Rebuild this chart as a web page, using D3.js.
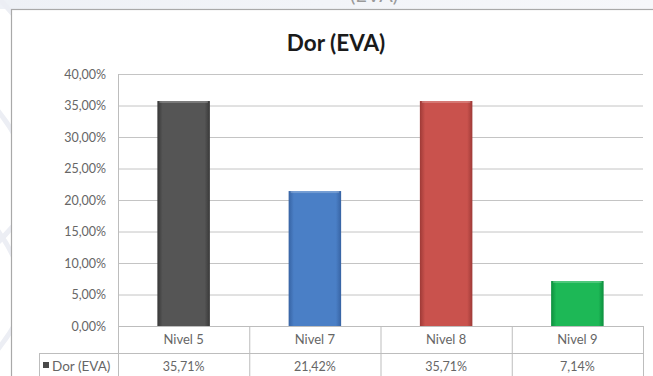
<!DOCTYPE html>
<html>
<head>
<meta charset="utf-8">
<script src="https://cdn.jsdelivr.net/npm/d3@7"></script>
<style>
  html, body { margin: 0; padding: 0; background: #ffffff; }
  svg { display: block; }
  text { font-family: Lato, "Open Sans", "Liberation Sans", sans-serif; }
</style>
</head>
<body>
<svg id="chart" width="653" height="376"></svg>
<script>
// Data
const title = "Dor (EVA)";
const seriesName = "Dor (EVA)";
const categories = ["Nivel 5", "Nivel 7", "Nivel 8", "Nivel 9"];
const values = [0.3571, 0.2142, 0.3571, 0.0714];
const yTicks = [0, 0.05, 0.10, 0.15, 0.20, 0.25, 0.30, 0.35, 0.40];
const barColors = ["#555555", "#4a7fc6", "#c9524d", "#1db856"];
const barEdges = ["#383838", "#3763a3", "#9e3a37", "#0d8f3e"];

const W = 653, H = 376;
const svg = d3.select("#chart");

// pt-BR number formatting (comma decimal)
const ptBR = d3.formatLocale({ decimal: ",", thousands: ".", grouping: [3], currency: ["R$", ""] });
const pct = ptBR.format(".2%");

// Slide background with faint arcs
svg.append("rect").attr("width", W).attr("height", H).attr("fill", "#ffffff");
const topGrad = svg.append("defs").append("linearGradient")
  .attr("id", "topband").attr("x1", 0).attr("x2", 1);
topGrad.append("stop").attr("offset", "0%").attr("stop-color", "#eef1f6");
topGrad.append("stop").attr("offset", "100%").attr("stop-color", "#f6f7fa");
svg.append("rect").attr("x", 0).attr("y", 0).attr("width", W).attr("height", 9).attr("fill", "url(#topband)");
[[-120, 120, 170], [-150, 230, 190], [-140, 330, 170]].forEach(([cx, cy, r]) => {
  svg.append("circle").attr("cx", cx).attr("cy", cy).attr("r", r)
    .attr("fill", "none").attr("stroke", "#eceef4").attr("stroke-width", 5);
});
// heading line of the slide above the chart, mostly outside the view
svg.append("text").attr("x", 374).attr("y", 2).attr("text-anchor", "middle")
  .attr("font-size", 20).attr("fill", "#9a9a9a").text("(EVA)");

// Chart frame
svg.append("rect").attr("x", 11.5).attr("y", 9.5).attr("width", 660).attr("height", 380)
  .attr("fill", "#ffffff").attr("stroke", "#a9a9a9").attr("stroke-width", 1.2);

// Title
svg.append("text").attr("x", 336).attr("y", 51).attr("text-anchor", "middle")
  .attr("font-size", 22.5).attr("font-weight", "bold").attr("fill", "#1a1a1a").text(title);

// Scales
const plotL = 118, plotR = 643, plotT = 74, plotB = 326;
const x = d3.scaleBand().domain(categories).range([plotL, plotR]).paddingInner(0.6).paddingOuter(0.3);
const xCell = d3.scaleBand().domain(categories).range([plotL, plotR]).padding(0);
const y = d3.scaleLinear().domain([0, 0.40]).range([plotB, plotT]);

// Gridlines
const grid = svg.append("g").attr("transform", `translate(${plotL},0)`)
  .call(d3.axisLeft(y).tickValues(yTicks.slice(1)).tickSize(-(plotR - plotL)).tickFormat(""));
grid.select(".domain").remove();
grid.selectAll("line").attr("stroke", "#c4c4c4").attr("stroke-width", 1);

// Y axis labels
const yAxis = svg.append("g").attr("transform", `translate(${plotL},0)`)
  .call(d3.axisLeft(y).tickValues(yTicks).tickSize(0).tickPadding(12).tickFormat(pct));
yAxis.select(".domain").attr("stroke", "#bdbdbd");
yAxis.selectAll("text").attr("font-size", 12.5).attr("fill", "#666666")
  .attr("font-family", "Lato, 'Open Sans', sans-serif");

// Bar gradients
const defs = svg.append("defs");
categories.forEach((c, i) => {
  const g = defs.append("linearGradient").attr("id", "bar" + i).attr("x1", 0).attr("x2", 1);
  g.append("stop").attr("offset", "0%").attr("stop-color", barEdges[i]);
  g.append("stop").attr("offset", "10%").attr("stop-color", barColors[i]);
  g.append("stop").attr("offset", "90%").attr("stop-color", barColors[i]);
  g.append("stop").attr("offset", "100%").attr("stop-color", barEdges[i]);
});

// Bars
const bars = svg.append("g");
bars.selectAll("rect.bar").data(values).join("rect").attr("class", "bar")
  .attr("x", (d, i) => x(categories[i]))
  .attr("y", d => y(d))
  .attr("width", x.bandwidth())
  .attr("height", d => y(0) - y(d))
  .attr("fill", (d, i) => `url(#bar${i})`);
bars.selectAll("rect.hi").data(values).join("rect").attr("class", "hi")
  .attr("x", (d, i) => x(categories[i]) + 2)
  .attr("y", d => y(d))
  .attr("width", x.bandwidth() - 4)
  .attr("height", 2)
  .attr("fill", "#ffffff").attr("opacity", 0.22);

// Data table
const rowH = 27;
const table = svg.append("g").attr("stroke", "#bdbdbd").attr("stroke-width", 1);
table.append("line").attr("x1", plotL).attr("x2", plotR).attr("y1", plotB + 0.5).attr("y2", plotB + 0.5);
table.append("line").attr("x1", 39).attr("x2", plotR).attr("y1", plotB + rowH + 0.5).attr("y2", plotB + rowH + 0.5);
table.append("line").attr("x1", 39.5).attr("x2", 39.5).attr("y1", plotB + rowH).attr("y2", H);
categories.concat([null]).forEach((c, i) => {
  const xx = c === null ? plotR : xCell(c);
  table.append("line").attr("x1", xx + 0.5).attr("x2", xx + 0.5).attr("y1", c === categories[0] ? plotT : plotB).attr("y2", H);
});

svg.append("g").selectAll("text").data(categories).join("text")
  .attr("x", d => xCell(d) + xCell.bandwidth() / 2)
  .attr("y", plotB + 18)
  .attr("text-anchor", "middle").attr("font-size", 13).attr("fill", "#666666")
  .text(d => d);
svg.append("g").selectAll("text").data(values).join("text")
  .attr("x", (d, i) => xCell(categories[i]) + xCell.bandwidth() / 2)
  .attr("y", plotB + rowH + 18)
  .attr("text-anchor", "middle").attr("font-size", 12.5).attr("fill", "#666666")
  .text(d => pct(d));

// Legend key in the table
svg.append("rect").attr("x", 43).attr("y", 362).attr("width", 6).attr("height", 6).attr("fill", "#4a4a4a");
svg.append("text").attr("x", 52).attr("y", plotB + rowH + 18)
  .attr("font-size", 13.5).attr("fill", "#666666").text(seriesName);
</script>
</body>
</html>
